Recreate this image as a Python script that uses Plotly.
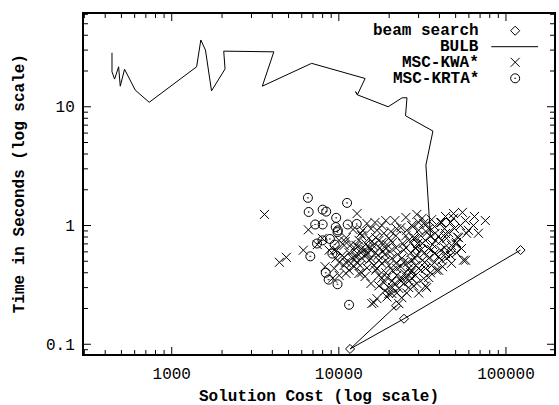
import math
import plotly.graph_objects as go

# ---------------- data ----------------
beam_cost = [22020, 11670, 24540, 122200]
beam_time = [0.211, 0.0913, 0.164, 0.621]

bulb_cost = [439, 439, 455, 481, 492, 522, 605, 733, 1409, 1493, 1592, 1730,
             2085, 2047, 4083, 3484, 6870, 14360, 12910, 12600, 12910, 19720,
             23930, 25570, 25060, 36550, 33190, 35310]
bulb_time = [28.5, 19.7, 17.1, 21.7, 14.9, 20.7, 13.8, 10.9, 21.7, 36.5, 30.0, 13.6,
             20.8, 29.4, 29.0, 14.9, 23.2, 17.3, 12.6, 13.4, 12.6, 10.0,
             11.9, 11.9, 8.4, 6.24, 3.23, 0.83]

kwa_cost = [3590, 4410, 4850, 6130, 6570, 7430, 8280, 8750, 7960, 12850,
            14730, 11060, 19100, 25200, 31500, 32190, 40700, 48560, 48560, 57300,
            75300, 63900, 68400, 58100, 55700, 33500, 39500, 26200, 16200, 16900,
            19900, 13500, 9380, 11030, 13200, 12670, 18100, 23500, 27300, 21950,
            25200, 28060, 13700, 15140, 16600, 18100, 19920, 12670, 13700, 15140,
            11510, 10480, 12670, 14550, 16600, 19100, 21950, 25200, 28800, 9590,
            11030, 12850, 15140, 17370, 20800, 23800, 27300, 11510, 13700, 16600,
            19100, 22200, 26200, 30060, 10040, 9190, 18100, 20800, 23800, 27300,
            19900, 22850, 26200, 20800, 23800, 15750, 22850, 41200, 59650, 27700,
            30060, 34470, 37700, 45350, 52000, 28800, 32900, 41200, 47200, 54200,
            28800, 34470, 40700, 46600, 57300, 29300, 34470, 41200, 47200, 28800,
            33000, 38400, 34470, 28800, 28060, 33000, 30060, 11830, 13200, 14550,
            16000, 17600, 19400, 20900, 12330, 13550, 15560, 17140, 18850, 12000,
            13740, 16220, 18100, 19920, 21950, 24470, 10750, 12330, 14730, 17370,
            19400, 22200, 24800, 26950, 15560, 17370, 18850, 21650, 24470, 25500,
            22200, 19400, 30060, 33300, 37400, 42900, 30900, 35400, 39540, 44100,
            31700, 36400, 42900, 50600, 30900, 37400, 43500, 50600, 31700, 37400,
            44100, 30900, 35400, 41800, 26200, 26950, 24470, 25500, 22200, 20500,
            18600, 16900, 15560, 13900, 10040, 9380, 10750, 51200, 50000, 46800,
            13000, 14350, 15770, 18350, 20200, 22500, 13400, 15560, 16900, 20900,
            23500, 14350, 20900, 23500, 18600, 25850, 28500, 32600, 35900, 29600,
            33700, 37800, 39540, 35900, 32190, 27300, 29300, 25500, 43500, 49200,
            53400, 10750, 10040, 11830, 9700, 10900, 12160, 16450, 21650, 29300,
            35900, 43500, 54900, 64800, 46600, 24150, 17370, 14730, 19100, 32600]
kwa_time = [1.24, 0.49, 0.54, 0.62, 0.92, 0.69, 0.45, 0.62, 0.78, 1.26,
            1.04, 0.79, 1.10, 1.17, 1.15, 1.04, 1.06, 1.26, 1.15, 1.10,
            1.10, 1.00, 0.86, 0.86, 0.51, 0.30, 0.42, 0.34, 0.224, 0.242,
            0.267, 0.86, 0.435, 0.395, 0.395, 0.54, 1.00, 0.96, 1.00, 0.82,
            0.82, 0.78, 0.82, 0.78, 0.79, 0.72, 0.78, 0.68, 0.64, 0.65,
            0.59, 0.56, 0.56, 0.56, 0.59, 0.64, 0.65, 0.65, 0.64, 0.53,
            0.49, 0.49, 0.51, 0.51, 0.53, 0.53, 0.51, 0.42, 0.40, 0.42,
            0.40, 0.435, 0.435, 0.435, 0.38, 0.36, 0.36, 0.34, 0.36, 0.36,
            0.30, 0.295, 0.30, 0.267, 0.247, 0.22, 0.22, 1.06, 0.91, 0.98,
            0.91, 0.94, 0.86, 0.87, 0.79, 0.78, 0.75, 0.75, 0.68, 0.64,
            0.65, 0.64, 0.62, 0.56, 0.51, 0.56, 0.53, 0.51, 0.48, 0.46,
            0.435, 0.42, 0.365, 0.38, 0.31, 0.31, 0.27, 0.69, 0.75, 0.70,
            0.68, 0.65, 0.69, 0.72, 0.62, 0.59, 0.62, 0.56, 0.57, 0.53,
            0.53, 0.46, 0.48, 0.46, 0.48, 0.49, 0.46, 0.45, 0.44, 0.38,
            0.365, 0.38, 0.395, 0.40, 0.325, 0.31, 0.283, 0.325, 0.325, 0.27,
            0.27, 0.25, 1.06, 1.02, 0.98, 0.94, 0.82, 0.81, 0.81, 0.78,
            0.705, 0.69, 0.65, 0.72, 0.62, 0.58, 0.58, 0.59, 0.51, 0.49,
            0.53, 0.42, 0.40, 0.45, 0.75, 0.59, 0.62, 0.91, 0.94, 0.89,
            0.86, 0.91, 0.94, 0.91, 0.75, 0.62, 0.68, 0.80, 0.70, 0.62,
            0.665, 0.628, 0.733, 0.604, 0.604, 0.57, 0.461, 0.527, 0.435, 0.418,
            0.452, 0.372, 0.301, 0.34, 0.33, 0.488, 0.527, 0.592, 0.628, 0.705,
            0.873, 0.748, 0.548, 0.461, 0.358, 0.418, 0.325, 0.365, 0.856, 0.943,
            1.00, 0.538, 0.488, 0.479, 0.616, 0.733, 0.925, 1.06, 1.10, 1.24,
            1.12, 1.19, 1.29, 1.19, 1.06, 0.705, 0.748, 0.592, 0.508, 0.488]

krta_cost = [6530, 6600, 8000, 8400, 11200, 7220, 8000, 9640, 9580, 9870,
             11300, 12800, 7400, 7980, 8840, 9450, 9150, 6750, 8350, 8690,
             9820, 11510, 9820]
krta_time = [1.71, 1.30, 1.36, 1.31, 1.55, 1.02, 1.02, 1.16, 0.97, 0.91,
             1.02, 1.03, 0.705, 0.75, 0.77, 0.69, 0.58, 0.55, 0.40, 0.35,
             0.32, 0.215, 0.88]

series_names = ["beam search", "BULB", "MSC-KWA*", "MSC-KRTA*"]
x_tick_vals = [1000, 10000, 100000]
x_tick_text = ["1000", "10000", "100000"]
y_tick_vals = [0.1, 1, 10]
y_tick_text = ["0.1", "1", "10"]
x_title = "Solution Cost (log scale)"
y_title = "Time in Seconds (log scale)"

# ---------------- figure ----------------
W, H = 559, 405
ML, MR, MT, MB = 84, 3, 14, 51
PW, PH = W - ML - MR, H - MT - MB
X_RANGE = [2.475, 5.2875]
Y_RANGE = [-1.082, 1.781]
MAJOR_LEN, MINOR_LEN = 7, 4
TICKFONT = dict(family="Liberation Mono", size=16, color="black")
BOLDFONT = dict(family="Liberation Mono", size=16, color="black", weight="bold")

fig = go.Figure()
fig.add_trace(go.Scatter(x=bulb_cost, y=bulb_time, mode="lines",
                         line=dict(color="black", width=1), name=series_names[1]))
fig.add_trace(go.Scatter(x=beam_cost, y=beam_time, mode="lines+markers",
                         line=dict(color="black", width=1),
                         marker=dict(symbol="diamond-open", size=7, color="black",
                                     line=dict(width=1, color="black")),
                         name=series_names[0]))
fig.add_trace(go.Scatter(x=kwa_cost, y=kwa_time, mode="markers",
                         marker=dict(symbol="x-thin-open", size=9, color="black",
                                     line=dict(width=1, color="black")),
                         name=series_names[2]))
fig.add_trace(go.Scatter(x=krta_cost, y=krta_time, mode="markers",
                         marker=dict(symbol="circle-open-dot", size=9, color="black",
                                     line=dict(width=1, color="black")),
                         name=series_names[3]))

# ---- inward tick marks on all four sides (gnuplot style), pixel overlay ----
def xpix(v):
    return ML + (math.log10(v) - X_RANGE[0]) / (X_RANGE[1] - X_RANGE[0]) * PW

def ypix(v):
    return (H - MB) - (math.log10(v) - Y_RANGE[0]) / (Y_RANGE[1] - Y_RANGE[0]) * PH

tx, ty = [], []
for d in range(2, 6):
    for m in range(1, 10):
        v = m * 10 ** d
        lv = math.log10(v)
        if not (X_RANGE[0] < lv < X_RANGE[1]):
            continue
        L = MAJOR_LEN if m == 1 else MINOR_LEN
        p = xpix(v)
        tx += [p, p, None, p, p, None]
        ty += [H - MB, H - MB - L, None, MT, MT + L, None]
for d in range(-2, 2):
    for m in range(1, 10):
        v = m * 10.0 ** d
        lv = math.log10(v)
        if not (Y_RANGE[0] < lv < Y_RANGE[1]):
            continue
        L = MAJOR_LEN if m == 1 else MINOR_LEN
        p = ypix(v)
        tx += [ML, ML + L, None, W - MR, W - MR - L, None]
        ty += [p, p, None, p, p, None]
fig.add_trace(go.Scatter(x=tx, y=ty, mode="lines", xaxis="x2", yaxis="y2",
                         line=dict(color="black", width=1), hoverinfo="skip"))

# pixel-space overlay for the key (gnuplot style: text, then sample on the right)
key_text_x = 482
key_sample_x = 517
key_line = (493, 540)
key_rows = [30.7, 46.7, 62.3, 78.3]
sample_style = [
    dict(mode="markers", marker=dict(symbol="diamond-open", size=7, color="black",
                                     line=dict(width=1, color="black"))),
    None,
    dict(mode="markers", marker=dict(symbol="x-thin-open", size=9, color="black",
                                     line=dict(width=1, color="black"))),
    dict(mode="markers", marker=dict(symbol="circle-open-dot", size=9, color="black",
                                     line=dict(width=1, color="black"))),
]
for i, name in enumerate(series_names):
    yk = key_rows[i]
    if sample_style[i] is None:
        fig.add_trace(go.Scatter(x=list(key_line), y=[yk, yk], mode="lines",
                                 line=dict(color="black", width=1),
                                 xaxis="x2", yaxis="y2", hoverinfo="skip"))
    else:
        fig.add_trace(go.Scatter(x=[key_sample_x], y=[yk], xaxis="x2", yaxis="y2",
                                 hoverinfo="skip", **sample_style[i]))
    fig.add_annotation(x=key_text_x, y=yk, xref="x2", yref="y2", text=name,
                       showarrow=False, xanchor="right", yanchor="middle",
                       height=15, borderpad=0, font=BOLDFONT)

# axis titles in paper coordinates
fig.add_annotation(x=0.5, y=-(396.5 - (H - MB)) / PH, xref="paper", yref="paper",
                   text=x_title, showarrow=False, xanchor="center", yanchor="middle",
                   font=BOLDFONT)
fig.add_annotation(x=(20 - ML) / PW, y=0.5, xref="paper", yref="paper",
                   text=y_title, showarrow=False, xanchor="center", yanchor="middle",
                   textangle=-90, font=BOLDFONT)

axis_common = dict(type="log", showgrid=False, zeroline=False, showline=True,
                   linecolor="black", linewidth=2, mirror=True,
                   ticks="", tickfont=TICKFONT)

fig.update_layout(
    width=W, height=H,
    margin=dict(l=ML, r=MR, t=MT, b=MB, pad=0),
    paper_bgcolor="white", plot_bgcolor="white",
    showlegend=False,
    xaxis=dict(range=X_RANGE, tickmode="array", tickvals=x_tick_vals,
               ticktext=x_tick_text, ticklabelstandoff=4, **axis_common),
    yaxis=dict(range=Y_RANGE, tickmode="array", tickvals=y_tick_vals,
               ticktext=y_tick_text, ticklabelstandoff=4, **axis_common),
    xaxis2=dict(overlaying="x", range=[ML, W - MR], visible=False, anchor="y2"),
    yaxis2=dict(overlaying="y", range=[H - MB, MT], visible=False, anchor="x2"),
)

fig.write_html("out.html")
